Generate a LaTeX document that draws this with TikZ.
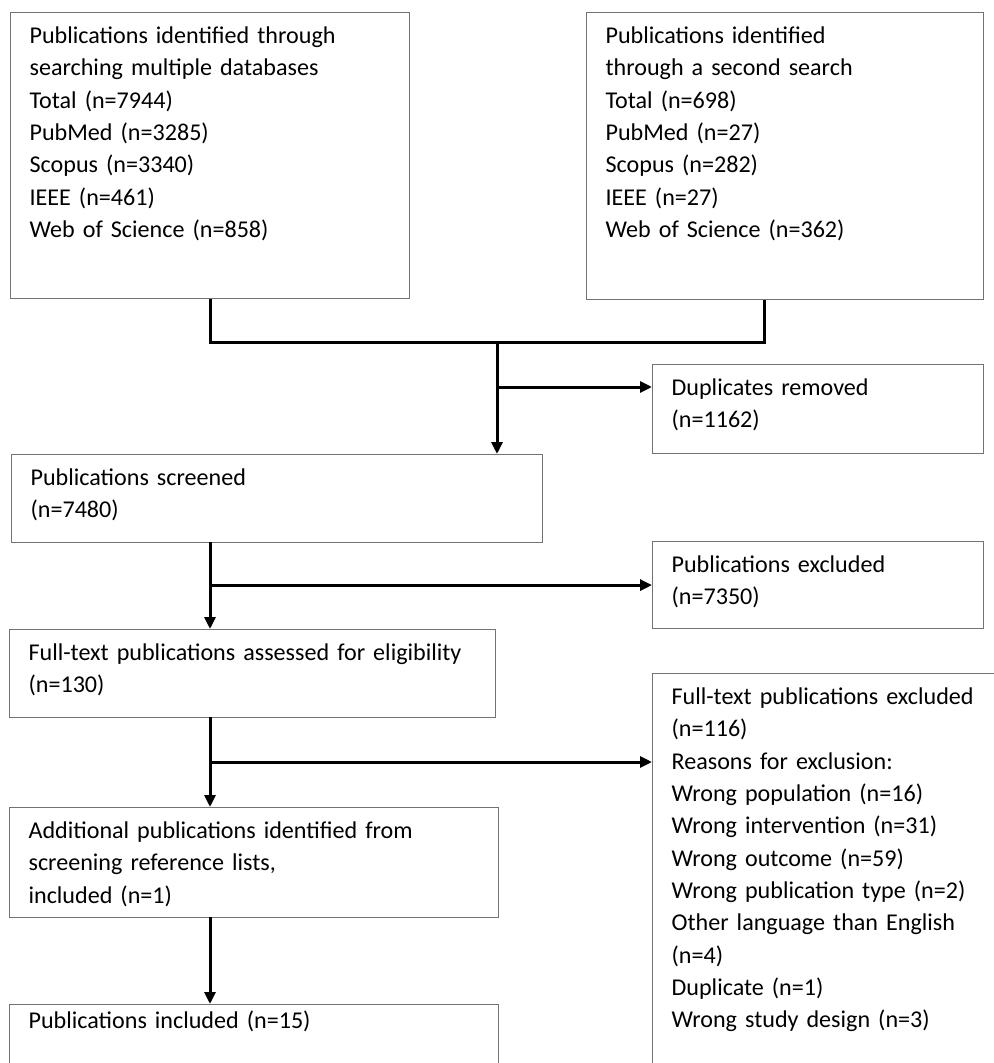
\documentclass[tikz,border=0pt]{standalone}
\usepackage{fontspec}
\setmainfont{Carlito}[WordSpace=0.75]
\usetikzlibrary{positioning, arrows.meta, calc}

\begin{document}
\begin{tikzpicture}[
    x=0.5pt, y=-0.5pt,
    box/.style={rectangle, draw=black!55, line width=0.6pt,
                anchor=north west, align=left,
                inner xsep=9.5pt, inner ysep=7.5pt, text height=8pt,
                font=\fontsize{12.05}{16.15}\selectfont},
    line/.style={line width=1.5pt},
    arr/.style={line width=1.5pt, -{Triangle[length=6pt, width=5.5pt]}},
    ]
    \useasboundingbox (0,0) rectangle (993,1063);

    % searches
    \node[box, text width=180.5pt, text depth=120pt] (db1) at (10,12)
    {Publications identified through\\searching multiple databases\\Total (n=7944)\\PubMed (n=3285)\\Scopus (n=3340)\\IEEE (n=461)\\Web of Science (n=858)};

    \node[box, text width=179.5pt, text depth=120.5pt] (db2) at (586,12)
    {Publications identified\\through a second search\\Total (n=698)\\PubMed (n=27)\\Scopus (n=282)\\IEEE (n=27)\\Web of Science (n=362)};

    \node[box, text width=146.5pt, text depth=21.5pt] (dup) at (652,364)
    {Duplicates removed\\(n=1162)};

    % main column
    \node[box, text width=246.5pt, text depth=21pt] (screen) at (11,454)
    {Publications screened\\(n=7480)};

    \node[box, text width=146.5pt, text depth=20.5pt] (excl) at (652,541)
    {Publications excluded\\(n=7350)};

    \node[box, text width=224pt, text depth=21pt] (full) at (9,629)
    {Full-text publications assessed for eligibility\\(n=130)};

    \node[box, text width=156.5pt, text depth=178pt] (ftex) at (652,673)
    {Full-text publications excluded\\(n=116)\\Reasons for exclusion:\\Wrong population (n=16)\\Wrong intervention (n=31)\\Wrong outcome (n=59)\\Wrong publication type (n=2)\\Other language than English\\(n=4)\\Duplicate (n=1)\\Wrong study design (n=3)};

    \node[box, text width=225.5pt, text depth=32pt] (add) at (9,807)
    {Additional publications identified from\\screening reference lists,\\included (n=1)};

    \node[box, text width=225.5pt, text height=4.5pt, text depth=12.5pt] (incl) at (9,1004)
    {Publications included (n=15)};

    % joints
    \coordinate (j1) at (497,343);
    \coordinate (b1) at (497,387);
    \coordinate (s1) at (210,542);
    \coordinate (f1) at (210,717);
    \coordinate (b3) at (210,762);
    \coordinate (a1) at (210,917);

    \draw[line] (db1.south) |- (j1) -| ([xshift=89pt]db2.south west);
    \draw[arr] (j1) -- (j1 |- screen.north);
    \draw[arr] (b1) -- (b1 -| dup.west);

    \draw[arr] (s1) -- (s1 |- full.north);
    \draw[arr] (s1 |- excl.west) -- (excl.west);

    \draw[arr] (f1) -- (f1 |- add.north);
    \draw[arr] (b3) -- (b3 -| ftex.west);

    \draw[arr] (a1) -- (a1 |- incl.north);

\end{tikzpicture}
\end{document}
